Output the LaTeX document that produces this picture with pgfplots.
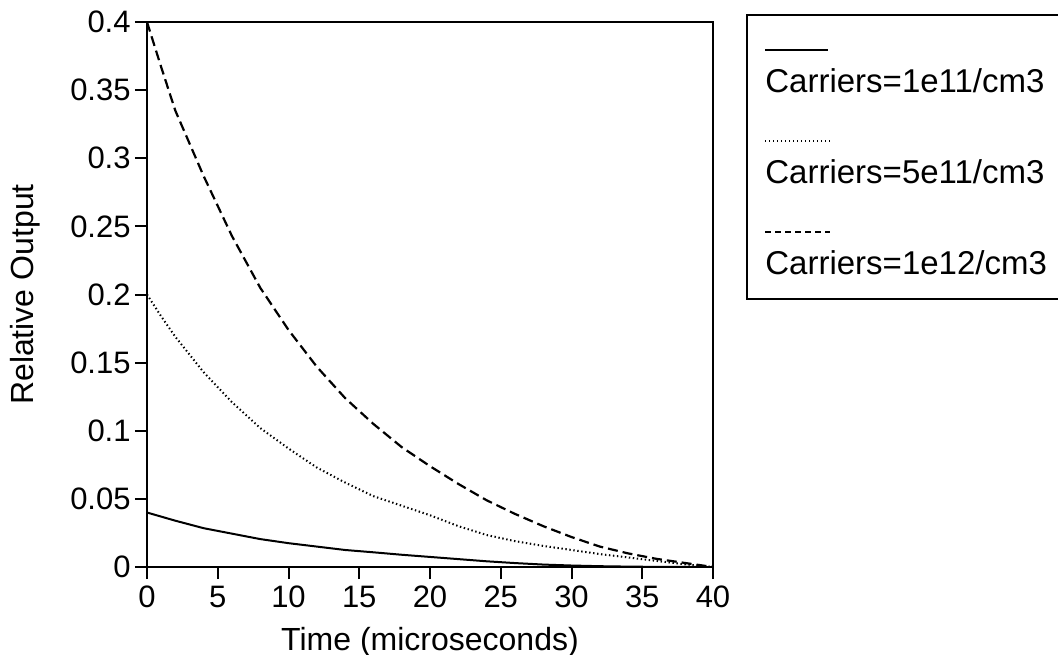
\documentclass[border=0pt]{standalone}
\usepackage{pgfplots}
\pgfplotsset{compat=1.18}
\usepackage{fontspec}
\setmainfont{Liberation Sans}
\pgfplotstableread{
t v
0 0.400
1 0.367
2 0.335
4 0.287
6 0.243
8 0.205
10 0.174
12 0.147
14 0.124
16 0.105
18 0.088
20 0.074
22 0.061
24 0.049
26 0.039
28 0.030
30 0.022
32 0.015
34 0.010
36 0.006
38 0.003
40 0.000
}\dashedtab
\pgfplotstableread{
t v
0 0.200
1 0.184
2 0.169
4 0.143
6 0.121
8 0.102
10 0.087
12 0.073
14 0.062
16 0.052
18 0.045
20 0.038
22 0.030
24 0.0235
26 0.019
28 0.0155
30 0.0125
32 0.0095
34 0.007
36 0.0045
38 0.002
40 0.000
}\dottedtab
\pgfplotstableread{
t v
0 0.040
2 0.034
4 0.0285
6 0.0245
8 0.0205
10 0.0175
12 0.015
14 0.0125
16 0.0108
18 0.009
20 0.0074
22 0.0058
24 0.0042
26 0.0029
28 0.0018
30 0.0011
32 0.0006
34 0.0003
36 0.0001
40 0.0
}\solidtab
\begin{document}
\begin{tikzpicture}[font=\fontsize{15.5pt}{18pt}\selectfont]
\useasboundingbox (0,0) rectangle (529pt,-327pt);
\begin{axis}[
  at={(73.5pt,-283.5pt)}, anchor=south west,
  scale only axis, width=283pt, height=272.5pt,
  xmin=0, xmax=40, ymin=0, ymax=0.4,
  xtick={0,5,...,40},
  ytick={0,0.05,0.1,0.15,0.2,0.25,0.3,0.35,0.4},
  yticklabels={0,0.05,0.1,0.15,0.2,0.25,0.3,0.35,0.4},
  xticklabels={0,5,10,15,20,25,30,35,40},
  xtick pos=left, ytick pos=left,
  tick align=outside, major tick length=6pt,
  every tick/.style={black, line width=1pt},
  axis line style={line width=1pt},
  yticklabel style={inner xsep=2pt},
  xticklabel style={inner ysep=3pt, text height=11.2pt, text depth=0pt},
  xlabel={Time (microseconds)},
  ylabel={Relative Output},
  xlabel style={at={(rel axis cs:0.5,0)}, anchor=base, yshift=-41.5pt, font=\fontsize{16pt}{19pt}\selectfont},
  ylabel style={at={(rel axis cs:-0.2155,0.5)}, anchor=center, font=\fontsize{16pt}{19pt}\selectfont},
]
\addplot[black, line width=1pt] table[x=t,y=v] {\solidtab};
\addplot[black, line width=1pt, dash pattern=on 0.7pt off 1.3pt] table[x=t,y=v] {\dottedtab};
\addplot[black, line width=1.1pt, dash pattern=on 5pt off 2.5pt] table[x=t,y=v] {\dashedtab};
\end{axis}
\draw[line width=1pt] (560pt,-7.5pt) -- (373.5pt,-7.5pt) -- (373.5pt,-149.5pt) -- (560pt,-149.5pt);
\draw[line width=1pt] (382.5pt,-25pt) -- (414pt,-25pt);
\draw[line width=1pt, dash pattern=on 0.7pt off 1.3pt] (382.5pt,-70.5pt) -- (415pt,-70.5pt);
\draw[line width=1pt, dash pattern=on 3pt off 2pt] (382.5pt,-116pt) -- (415pt,-116pt);
\begin{scope}[font=\fontsize{16.5pt}{19pt}\selectfont]
\node[anchor=base west, inner sep=0pt] at (382.5pt,-46pt) {Carriers=1e11/cm3};
\node[anchor=base west, inner sep=0pt] at (382.5pt,-91.5pt) {Carriers=5e11/cm3};
\node[anchor=base west, inner sep=0pt] at (382.5pt,-137pt) {Carriers=1e12/cm3};
\end{scope}
\end{tikzpicture}
\end{document}
